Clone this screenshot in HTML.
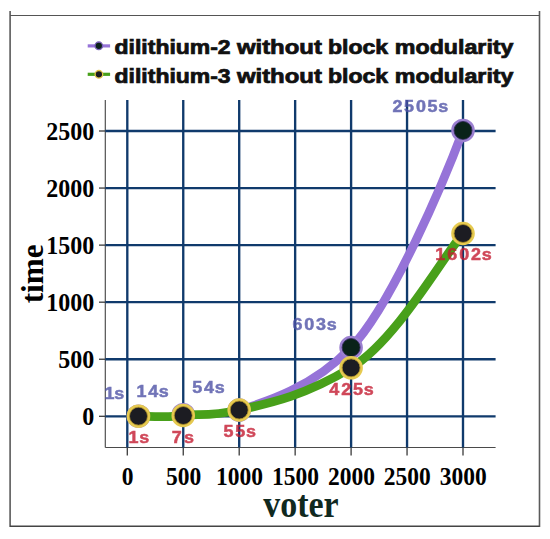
<!DOCTYPE html>
<html><head><meta charset="utf-8"><style>
html,body{margin:0;padding:0;background:#fff;}
svg{display:block;}
.g{stroke:#103a6c;stroke-width:2.35;}
.t{stroke:#3a3a3a;stroke-width:1.3;}
.ax{stroke:#4a4a4a;stroke-width:1.15;fill:none;}
.yl{font-family:"Liberation Serif",serif;font-weight:bold;font-size:24px;text-anchor:end;fill:#000;}
.xl{font-family:"Liberation Serif",serif;font-weight:bold;font-size:23.5px;text-anchor:middle;fill:#000;}
.d1 text{font-family:"Liberation Sans",sans-serif;font-weight:bold;font-size:16.3px;fill:#4e52a6;stroke:#4e52a6;stroke-width:0.5px;}
.d2 text{font-family:"Liberation Sans",sans-serif;font-weight:bold;font-size:16.3px;fill:#c41a30;stroke:#c41a30;stroke-width:0.5px;}
.lg{font-family:"Liberation Sans",sans-serif;font-weight:bold;font-size:18.5px;fill:#111;stroke:#111;stroke-width:0.7px;}
.m1{fill:#0a2219;stroke:#9b80d0;stroke-width:2.9;}
.m2{fill:#1c1c22;stroke:#e6ca50;stroke-width:2.9;}
.m1i{fill:none;stroke:#2a2450;stroke-width:0.8;}
.m2i{fill:none;stroke:#a88a28;stroke-width:0.8;}
</style></head><body>
<svg width="550" height="539" viewBox="0 0 550 539">
<line x1="10.1" y1="11" x2="10.1" y2="527" stroke="#5a5a5a" stroke-width="1.6"/>
<line x1="539.5" y1="11" x2="539.5" y2="527" stroke="#5a5a5a" stroke-width="1.6"/>
<line x1="10" y1="15.5" x2="539.5" y2="15.5" stroke="#555" stroke-width="1.1"/>
<line x1="10" y1="526.3" x2="539.5" y2="526.3" stroke="#444" stroke-width="1.4"/>
<line x1="105.3" y1="100" x2="105.3" y2="447.5" class="ax"/>
<line x1="105.3" y1="447.5" x2="495.6" y2="447.5" class="ax"/>
<line x1="99" y1="416.30" x2="105.3" y2="416.30" class="t"/>
<line x1="99" y1="359.24" x2="105.3" y2="359.24" class="t"/>
<line x1="99" y1="302.18" x2="105.3" y2="302.18" class="t"/>
<line x1="99" y1="245.12" x2="105.3" y2="245.12" class="t"/>
<line x1="99" y1="188.06" x2="105.3" y2="188.06" class="t"/>
<line x1="99" y1="131.00" x2="105.3" y2="131.00" class="t"/>
<line x1="127.30" y1="447.5" x2="127.30" y2="455.5" class="t"/>
<line x1="183.25" y1="447.5" x2="183.25" y2="455.5" class="t"/>
<line x1="239.20" y1="447.5" x2="239.20" y2="455.5" class="t"/>
<line x1="295.15" y1="447.5" x2="295.15" y2="455.5" class="t"/>
<line x1="351.10" y1="447.5" x2="351.10" y2="455.5" class="t"/>
<line x1="407.05" y1="447.5" x2="407.05" y2="455.5" class="t"/>
<line x1="463.00" y1="447.5" x2="463.00" y2="455.5" class="t"/>

<line x1="105.3" y1="416.30" x2="495.6" y2="416.30" class="g"/>
<line x1="105.3" y1="359.24" x2="495.6" y2="359.24" class="g"/>
<line x1="105.3" y1="302.18" x2="495.6" y2="302.18" class="g"/>
<line x1="105.3" y1="245.12" x2="495.6" y2="245.12" class="g"/>
<line x1="105.3" y1="188.06" x2="495.6" y2="188.06" class="g"/>
<line x1="105.3" y1="131.00" x2="495.6" y2="131.00" class="g"/>
<line x1="127.30" y1="100" x2="127.30" y2="447.5" class="g"/>
<line x1="183.25" y1="100" x2="183.25" y2="447.5" class="g"/>
<line x1="239.20" y1="100" x2="239.20" y2="447.5" class="g"/>
<line x1="295.15" y1="100" x2="295.15" y2="447.5" class="g"/>
<line x1="351.10" y1="100" x2="351.10" y2="447.5" class="g"/>
<line x1="407.05" y1="100" x2="407.05" y2="447.5" class="g"/>
<line x1="463.00" y1="100" x2="463.00" y2="447.5" class="g"/>

<text transform="translate(94.3,425.10) scale(1,1.070)" class="yl">0</text>
<text transform="translate(94.3,368.04) scale(1,1.070)" class="yl">500</text>
<text transform="translate(94.3,310.98) scale(1,1.070)" class="yl">1000</text>
<text transform="translate(94.3,253.92) scale(1,1.070)" class="yl">1500</text>
<text transform="translate(94.3,196.86) scale(1,1.070)" class="yl">2000</text>
<text transform="translate(94.3,139.80) scale(1,1.070)" class="yl">2500</text>

<text transform="translate(127.60,484.8) scale(1,1.090)" class="xl">0</text>
<text transform="translate(183.55,484.8) scale(1,1.090)" class="xl">500</text>
<text transform="translate(239.50,484.8) scale(1,1.090)" class="xl">1000</text>
<text transform="translate(295.45,484.8) scale(1,1.090)" class="xl">1500</text>
<text transform="translate(351.40,484.8) scale(1,1.090)" class="xl">2000</text>
<text transform="translate(407.35,484.8) scale(1,1.090)" class="xl">2500</text>
<text transform="translate(463.30,484.8) scale(1,1.090)" class="xl">3000</text>

<path d="M239.20,410.14 C261.80,403.19 310.69,389.46 351.10,347.49 C391.51,305.52 444.73,179.30 463.00,130.43" fill="none" stroke="#9673d8" stroke-width="8.8" stroke-linecap="round"/>
<circle cx="138.49" cy="416.19" r="10.35" class="m1"/><circle cx="138.49" cy="416.19" r="9.0" class="m1i"/><circle cx="183.25" cy="414.70" r="10.35" class="m1"/><circle cx="183.25" cy="414.70" r="9.0" class="m1i"/><circle cx="239.20" cy="410.14" r="10.35" class="m1"/><circle cx="239.20" cy="410.14" r="9.0" class="m1i"/><circle cx="351.10" cy="347.49" r="10.35" class="m1"/><circle cx="351.10" cy="347.49" r="9.0" class="m1i"/><circle cx="463.00" cy="130.43" r="10.35" class="m1"/><circle cx="463.00" cy="130.43" r="9.0" class="m1i"/>
<path d="M138.49,416.19 C145.95,416.07 168.04,417.92 183.25,415.50 C198.46,413.08 206.34,417.35 239.20,410.02 C272.06,402.69 305.55,395.33 351.10,367.80 C396.65,340.27 444.11,255.09 463.00,233.48" fill="none" stroke="#48a01a" stroke-width="8.8" stroke-linecap="round"/>
<circle cx="138.49" cy="416.19" r="10.35" class="m2"/><circle cx="138.49" cy="416.19" r="9.0" class="m2i"/><circle cx="183.25" cy="415.50" r="10.35" class="m2"/><circle cx="183.25" cy="415.50" r="9.0" class="m2i"/><circle cx="239.20" cy="410.02" r="10.35" class="m2"/><circle cx="239.20" cy="410.02" r="9.0" class="m2i"/><circle cx="351.10" cy="367.80" r="10.35" class="m2"/><circle cx="351.10" cy="367.80" r="9.0" class="m2i"/><circle cx="463.00" cy="233.48" r="10.35" class="m2"/><circle cx="463.00" cy="233.48" r="9.0" class="m2i"/>
<g opacity="0.8" class="d1"><text transform="translate(104.50,398.7) scale(1.10,1)">1</text><text transform="translate(114.26,398.7) scale(1.10,1)">s</text><text transform="translate(136.50,397.3) scale(1.10,1)">1</text><text transform="translate(148.16,397.3) scale(1.10,1)">4</text><text transform="translate(158.76,397.3) scale(1.10,1)">s</text><text transform="translate(192.35,393.2) scale(1.10,1)">5</text><text transform="translate(204.01,393.2) scale(1.10,1)">4</text><text transform="translate(214.86,393.2) scale(1.10,1)">s</text><text transform="translate(292.54,329.5) scale(1.10,1)">6</text><text transform="translate(304.31,329.5) scale(1.10,1)">0</text><text transform="translate(316.08,329.5) scale(1.10,1)">3</text><text transform="translate(326.76,329.5) scale(1.10,1)">s</text><text transform="translate(392.44,112.3) scale(1.10,1)">2</text><text transform="translate(404.11,112.3) scale(1.10,1)">5</text><text transform="translate(415.89,112.3) scale(1.10,1)">0</text><text transform="translate(427.56,112.3) scale(1.10,1)">5</text><text transform="translate(438.36,112.3) scale(1.10,1)">s</text></g>
<g opacity="0.8" class="d2"><text transform="translate(128.40,443.2) scale(1.10,1)">1</text><text transform="translate(139.26,443.2) scale(1.10,1)">s</text><text transform="translate(171.73,443.2) scale(1.10,1)">7</text><text transform="translate(184.06,443.2) scale(1.10,1)">s</text><text transform="translate(223.45,436.8) scale(1.10,1)">5</text><text transform="translate(235.17,436.8) scale(1.10,1)">5</text><text transform="translate(245.96,436.8) scale(1.10,1)">s</text><text transform="translate(329.18,394.5) scale(1.10,1)">4</text><text transform="translate(341.14,394.5) scale(1.10,1)">2</text><text transform="translate(352.94,394.5) scale(1.10,1)">5</text><text transform="translate(363.86,394.5) scale(1.10,1)">s</text><text transform="translate(435.30,260.3) scale(1.10,1)">1</text><text transform="translate(447.33,260.3) scale(1.10,1)">6</text><text transform="translate(459.14,260.3) scale(1.10,1)">0</text><text transform="translate(470.89,260.3) scale(1.10,1)">2</text><text transform="translate(481.66,260.3) scale(1.10,1)">s</text></g>

<line x1="87.7" y1="45.9" x2="110.1" y2="45.9" stroke="#9673d8" stroke-width="3.2"/>
<circle cx="98.8" cy="45.8" r="3.8" fill="#0b2119" stroke="#7a62b8" stroke-width="1.3"/>
<text transform="translate(114.60,53.90) scale(1,1.05)" class="lg" textLength="116.00" lengthAdjust="spacingAndGlyphs">dilithium-2</text><text transform="translate(236.90,53.90) scale(1,1.05)" class="lg" textLength="85.00" lengthAdjust="spacingAndGlyphs">without</text><text transform="translate(327.90,53.90) scale(1,1.05)" class="lg" textLength="60.20" lengthAdjust="spacingAndGlyphs">block</text><text transform="translate(394.80,53.90) scale(1,1.05)" class="lg" textLength="118.70" lengthAdjust="spacingAndGlyphs">modularity</text>
<line x1="87.7" y1="74.3" x2="110.1" y2="74.3" stroke="#48a01a" stroke-width="3.2"/>
<circle cx="98.9" cy="74.3" r="3.8" fill="#1b1b20" stroke="#e3c64c" stroke-width="1.3"/>
<text transform="translate(114.60,82.50) scale(1,1.05)" class="lg" textLength="116.00" lengthAdjust="spacingAndGlyphs">dilithium-3</text><text transform="translate(236.90,82.50) scale(1,1.05)" class="lg" textLength="85.00" lengthAdjust="spacingAndGlyphs">without</text><text transform="translate(327.90,82.50) scale(1,1.05)" class="lg" textLength="60.20" lengthAdjust="spacingAndGlyphs">block</text><text transform="translate(394.80,82.50) scale(1,1.05)" class="lg" textLength="118.70" lengthAdjust="spacingAndGlyphs">modularity</text>
<text transform="translate(300.9,517.2) scale(1,1.09)" font-family="Liberation Serif" font-weight="bold" font-size="34px" fill="#10291f" text-anchor="middle">voter</text>
<text transform="translate(43.2,273.9) rotate(-90) scale(0.975,1)" font-family="Liberation Serif" font-weight="bold" font-size="32px" fill="#000" text-anchor="middle">time</text>
</svg>
</body></html>
